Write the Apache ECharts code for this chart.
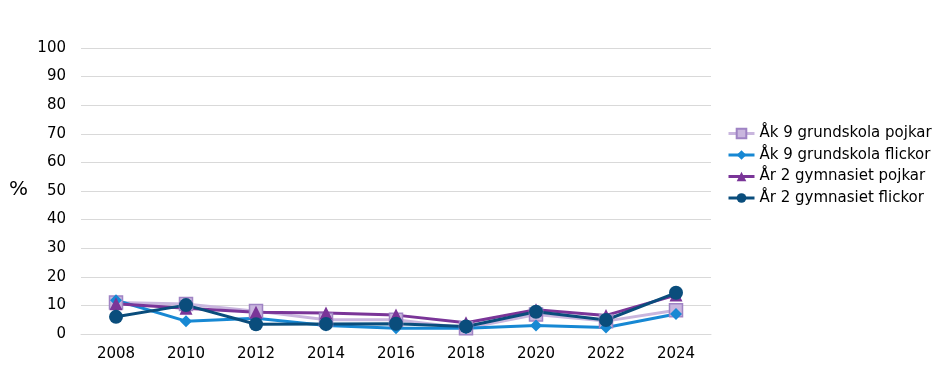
<!DOCTYPE html>
<html><head><meta charset="utf-8">
<script src="https://cdn.jsdelivr.net/npm/echarts@6/dist/echarts.min.js"></script>
<style>html,body{margin:0;padding:0;background:#fff}#c{width:945px;height:377px}</style>
</head><body><div id="c"></div>
<script>
const years = ['2008','2010','2012','2014','2016','2018','2020','2022','2024'];
const ak9Pojkar = [11, 10.5, 8, 5, 5, 2, 6.8, 4.5, 8.3];
const ak9Flickor = [11.8, 4.5, 5.5, 3, 2, 2, 3, 2.3, 7];
const ar2Pojkar = [10.6, 9, 7.6, 7.3, 6.6, 3.9, 8.5, 6.5, 13.6];
const ar2Flickor = [6, 10.1, 3.4, 3.5, 3.6, 2.6, 7.8, 4.9, 14.4];
const yTicks = [0,10,20,30,40,50,60,70,80,90,100];
const font = 'DejaVu Sans';
const chart = echarts.init(document.getElementById('c'));
function s(name, data, color, symbol, size, fill, border) {
  return {name, type:'line', data, symbol, symbolSize:size,
    lineStyle:{color, width:3}, itemStyle:{color: fill||color, borderColor: border||color, borderWidth: border?1.5:0},
    color, animation:false};
}
chart.setOption({
  animation:false,
  grid:{left:81, right:234, top:48, bottom:43},
  xAxis:{type:'category', data:years, boundaryGap:true,
    axisLine:{lineStyle:{color:'#d9d9d9', width:1}}, axisTick:{show:false},
    axisLabel:{color:'#000', fontFamily:font, fontSize:15, margin:13}},
  yAxis:{type:'value', min:yTicks[0], max:yTicks[yTicks.length-1], interval:10,
    axisLine:{show:false}, axisTick:{show:false},
    splitLine:{lineStyle:{color:'#d9d9d9', width:1}},
    axisLabel:{color:'#000', fontFamily:font, fontSize:15, margin:15}},
  legend:{orient:'vertical', left:727, top:126, padding:0, itemGap:6.5, itemWidth:26, itemHeight:12,
    lineStyle:{width:3, type:'solid'},
    textStyle:{fontFamily:font, fontSize:15, color:'#000'},
    data:['Åk 9 grundskola pojkar','Åk 9 grundskola flickor','År 2 gymnasiet pojkar','År 2 gymnasiet flickor']},
  graphic:[{type:'text', left:9, top:180, style:{text:'%', fontFamily:font, fontSize:20, fill:'#000'}}],
  series:[
    s('Åk 9 grundskola pojkar', ak9Pojkar, '#C9B6DE', 'rect', 13, '#C9B6DE', '#9F83C4'),
    s('Åk 9 grundskola flickor', ak9Flickor, '#1788D3', 'diamond', 12),
    s('År 2 gymnasiet pojkar', ar2Pojkar, '#7A3598', 'triangle', 13),
    s('År 2 gymnasiet flickor', ar2Flickor, '#0A4D7C', 'circle', 14)
  ]
});
</script></body></html>
